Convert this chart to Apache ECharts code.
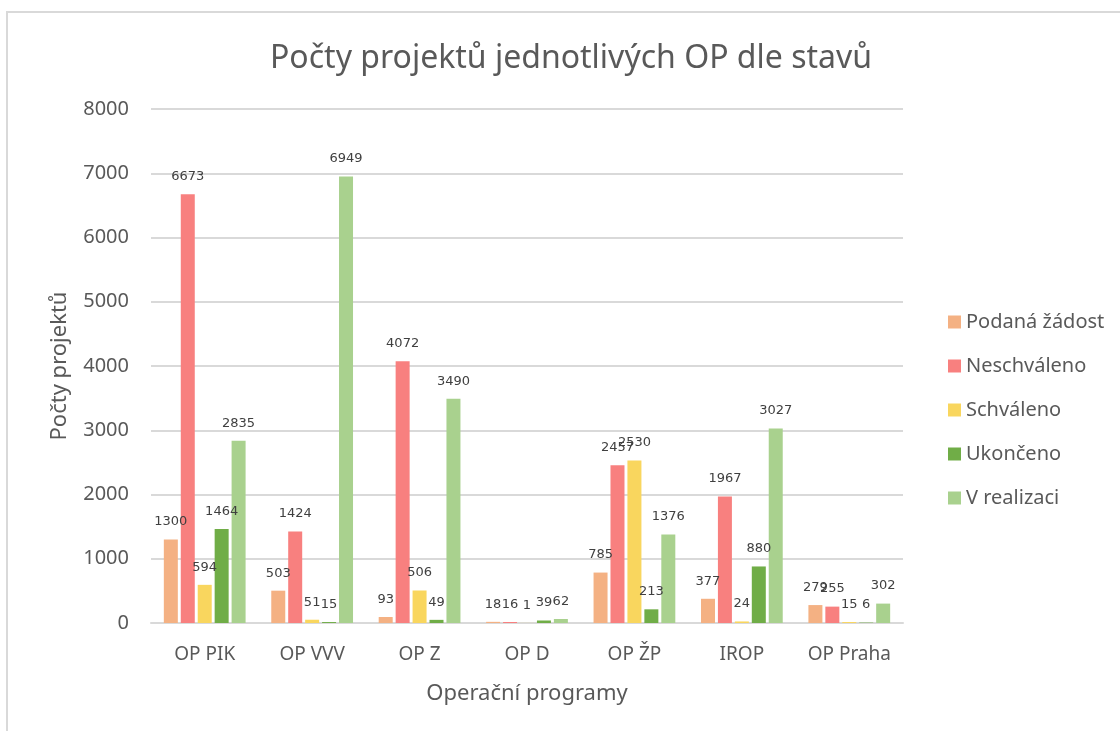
<!DOCTYPE html>
<html>
<head>
<meta charset="utf-8">
<script src="https://cdn.jsdelivr.net/npm/echarts@6/dist/echarts.min.js"></script>
<style>
html, body { margin: 0; padding: 0; background: #fff; }
#container { width: 1120px; height: 731px; }
</style>
</head>
<body>
<div id="container"></div>
<script>
var categories = ['OP PIK', 'OP VVV', 'OP Z', 'OP D', 'OP ŽP', 'IROP', 'OP Praha'];
var seriesNames = ['Podaná žádost', 'Neschváleno', 'Schváleno', 'Ukončeno', 'V realizaci'];
var podanaZadost = [1300, 503, 93, 18, 785, 377, 279];
var neschvaleno = [6673, 1424, 4072, 16, 2457, 1967, 255];
var schvaleno = [594, 51, 506, 1, 2530, 24, 15];
var ukonceno = [1464, 15, 49, 39, 213, 880, 6];
var vRealizaci = [2835, 6949, 3490, 62, 1376, 3027, 302];
var colors = ['#F4B183', '#F8807F', '#F9D65E', '#70AD47', '#A9D18E'];

var dom = document.getElementById("container");
var myChart = echarts.init(dom);

var seriesData = [podanaZadost, neschvaleno, schvaleno, ukonceno, vRealizaci];
var textFont = 'Noto Sans';

var series = seriesData.map(function (d, i) {
    return {
        name: seriesNames[i],
        type: 'bar',
        data: d,
        barWidth: 14,
        barGap: '21%',
        itemStyle: { color: colors[i] },
        label: {
            show: true,
            position: 'top',
            distance: 11,
            color: '#404040',
            fontSize: 13,
            fontFamily: 'DejaVu Sans'
        }
    };
});

option = {
    backgroundColor: '#fff',
    animation: false,
    color: colors,
    graphic: [{
        type: 'rect',
        shape: { x: 7, y: 12, width: 1200, height: 800 },
        style: { fill: 'none', stroke: '#d9d9d9', lineWidth: 2 }
    }],
    title: {
        text: 'Počty projektů jednotlivých OP dle stavů',
        left: 566,
        top: 38,
        textAlign: 'center',
        textStyle: {
            fontFamily: textFont,
            fontSize: 32,
            fontWeight: 'normal',
            color: '#595959'
        }
    },
    legend: {
        orient: 'vertical',
        left: 943,
        top: 307,
        itemWidth: 13,
        itemHeight: 13,
        itemGap: 24,
        icon: 'rect',
        textStyle: { fontFamily: textFont, fontSize: 20, color: '#595959' },
        data: seriesNames
    },
    grid: {
        left: 151,
        right: 217,
        top: 109,
        bottom: 108
    },
    xAxis: {
        type: 'category',
        data: categories,
        name: 'Operační programy',
        nameLocation: 'middle',
        nameGap: 60,
        nameTextStyle: { fontFamily: textFont, fontSize: 22, color: '#595959' },
        axisTick: { show: false },
        axisLine: { lineStyle: { color: '#d9d9d9', width: 2 } },
        axisLabel: { interval: 0, fontFamily: textFont, fontSize: 19, color: '#595959', margin: 22 }
    },
    yAxis: {
        type: 'value',
        min: 0,
        max: 8000,
        interval: 1000,
        name: 'Počty projektů',
        nameLocation: 'middle',
        nameGap: 80,
        nameTextStyle: { fontFamily: textFont, fontSize: 22, color: '#595959' },
        axisLine: { show: false },
        axisTick: { show: false },
        splitLine: { lineStyle: { color: '#d9d9d9', width: 2 } },
        axisLabel: {
            fontFamily: textFont,
            fontSize: 20,
            color: '#595959',
            margin: 22,
            formatter: function (v) { return String(v); }
        }
    },
    series: series
};

if (option && typeof option === "object") {
    myChart.setOption(option, true);
}
</script>
</body>
</html>
